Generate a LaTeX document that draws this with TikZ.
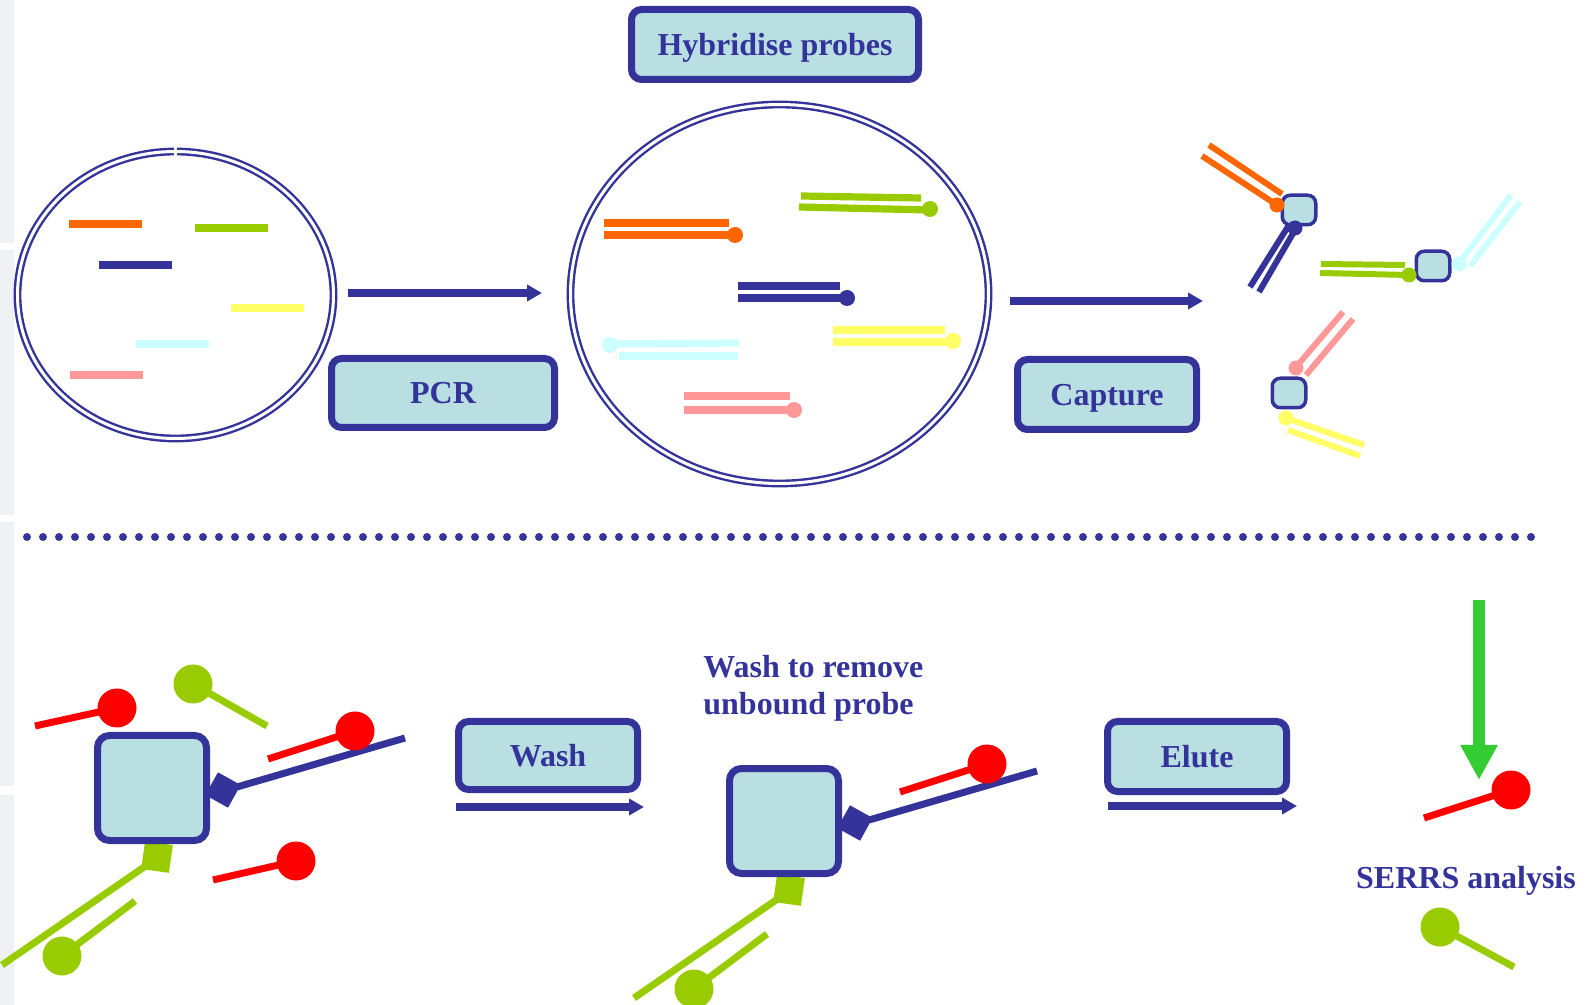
\documentclass[tikz,border=0pt]{standalone}
\usepackage{fontspec}
\setmainfont{Liberation Serif}
\usetikzlibrary{arrows.meta,shapes.geometric,positioning}

\definecolor{navy}{HTML}{333399}
\definecolor{boxfill}{HTML}{B9DFE3}
\definecolor{dnaorange}{HTML}{FF6600}
\definecolor{dnagreen}{HTML}{99CC00}
\definecolor{dnayellow}{HTML}{FFFF66}
\definecolor{dnacyan}{HTML}{CCFFFF}
\definecolor{dnapink}{HTML}{FF9999}
\definecolor{dyered}{HTML}{FF0000}
\definecolor{arrowgreen}{HTML}{33CC33}
\definecolor{stripgrey}{HTML}{F0F1F4}

\newcommand{\stepfont}{\bfseries\fontsize{16}{18.5}\selectfont}
\newcommand{\ballR}{9.75pt}
% probe: kleur, bolletje, vrij uiteinde
\newcommand{\probe}[3]{%
  \draw[stick, #1] #3 -- #2;
  \fill[#1] #2 circle (\ballR);}
% gebonden bead met twee targets en gehybridiseerde probes
\newcommand{\boundbead}[2]{%
  \begin{scope}[shift={#2}]
    \draw[stick, navy] (85,-1) -- (253,-50);
    \node[anchorsq, fill=navy, rotate=-29] (#1-target) at (71,2) {};
    \draw[stick, dnagreen] (-5,77) -- (-150,177);
    \node[anchorsq, minimum size=14pt, fill=dnagreen, rotate=-8] (#1-tag) at (5,69) {};
    \node[bigbead] (#1) at (0,0) {};
    \probe{dyered}{(203,-57)}{(116,-29)}
    \probe{dnagreen}{(-90,168)}{(-17,113)}
  \end{scope}}

\begin{document}
\begin{tikzpicture}[
    x=0.5pt, y=-0.5pt,
    % Stijlen
    stepbox/.style={draw=navy, fill=boxfill, line width=3.5pt, rounded corners=5pt,
      text=navy, font=\stepfont, inner sep=0pt, text height=10.6pt, text depth=0pt},
    tube/.style={ellipse, draw=navy, double=white, line width=1.2pt,
      double distance=1.5pt, inner sep=0pt, outer sep=0pt},
    flow/.style={-{Triangle[length=7.5pt,width=8pt]}, line width=4pt, navy},
    bar/.style={line width=4pt},
    duplex/.style={line width=3.6pt},
    arm/.style={line width=3pt},
    stick/.style={line width=3.5pt},
    capbead/.style={draw=navy, fill=boxfill, line width=1.75pt, rounded corners=4pt,
      minimum width=16.75pt, minimum height=14.75pt, inner sep=0pt},
    bigbead/.style={draw=navy, fill=boxfill, line width=3.5pt, rounded corners=6pt,
      minimum width=54.5pt, minimum height=52.5pt, inner sep=0pt},
    anchorsq/.style={minimum size=13pt, inner sep=0pt, outer sep=0pt},
    note/.style={text=navy, font=\stepfont, inner sep=0pt}
  ]

  % --- Parameters ---
  \def\dotR{3.75pt}   % bolletje bij capture
  \def\tipR{4pt}      % bolletje in buis

  \useasboundingbox (0,0) rectangle (1592,1005);

  % --- Rand links ---
  \fill[stripgrey] (0,0) rectangle (14,243);
  \fill[stripgrey] (0,250) rectangle (14,515);
  \fill[stripgrey] (0,522) rectangle (14,786);
  \fill[stripgrey] (0,795) rectangle (14,1005);

  % --- 1. BUIZEN ---
  \node[tube, minimum width=158pt, minimum height=143.5pt] (tube1) at (175.5,295) {};
  \fill[white] ([xshift=-0.8pt,yshift=-3pt]tube1.north) rectangle ([xshift=0.8pt,yshift=3pt]tube1.north);
  \node[tube, minimum width=209pt, minimum height=189.5pt] (tube2) at (779.5,294) {};

  % Targets in buis 1
  \draw[bar, dnaorange] (69,224) -- (142,224);
  \draw[bar, dnagreen] (195,228) -- (268,228);
  \draw[bar, navy] (99,265) -- (172,265);
  \draw[bar, dnayellow] (231,308) -- (304,308);
  \draw[bar, dnacyan] (136,344) -- (209,344);
  \draw[bar, dnapink] (70,375) -- (143,375);

  % Duplexen in buis 2
  \draw[duplex, dnaorange] (604,223) -- (729,223);
  \draw[duplex, dnaorange] (604,235) -- (735,235);
  \fill[dnaorange] (735,235) circle (\tipR);
  \draw[duplex, dnagreen] (801,196) -- (921,198);
  \draw[duplex, dnagreen] (799,207) -- (930,210);
  \fill[dnagreen] (930,209) circle (\tipR);
  \draw[duplex, navy] (738,286) -- (840,286);
  \draw[duplex, navy] (738,298) -- (847,298);
  \fill[navy] (847,298) circle (\tipR);
  \draw[duplex, dnayellow] (833,330) -- (945,330);
  \draw[duplex, dnayellow] (833,342) -- (953,342);
  \fill[dnayellow] (953,341) circle (\tipR);
  \draw[duplex, dnacyan] (610,344) -- (739,343);
  \draw[duplex, dnacyan] (619,356) -- (738,356);
  \fill[dnacyan] (610,345) circle (\tipR);
  \draw[duplex, dnapink] (684,396) -- (790,396);
  \draw[duplex, dnapink] (684,410) -- (794,410);
  \fill[dnapink] (794,410) circle (\tipR);

  % --- 2. STAPPEN ---
  \node[stepbox, minimum width=143.5pt, minimum height=35pt] (hybridise) at (775,44.5) {Hybridise probes};
  \node[stepbox, minimum width=111.5pt, minimum height=34.5pt] (pcr) at (443,393) {PCR};
  \node[stepbox, minimum width=89.5pt, minimum height=35pt] (capture) at (1107,394.5) {Capture};
  \node[stepbox, minimum width=89.5pt, minimum height=34pt] (wash) at (548,755.5) {Wash};
  \node[stepbox, minimum width=89.5pt, minimum height=35pt] (elute) at (1197,756.5) {Elute};

  \draw[flow] ([shift={(10pt,31pt)}]pcr.north west) -- ([shift={(-8pt,31pt)}]pcr.north east);
  \draw[flow] ([shift={(-2pt,27.5pt)}]capture.north west) -- ([shift={(1.5pt,27.5pt)}]capture.north east);
  \draw[flow] ([shift={(0.5pt,-7pt)}]wash.south west) -- ([shift={(1.5pt,-7pt)}]wash.south east);
  \draw[flow] ([shift={(2pt,-5.5pt)}]elute.south west) -- ([shift={(3.5pt,-5.5pt)}]elute.south east);

  % --- 3. CAPTURE BEADS ---
  \begin{scope}[shift={(1299,210)}]
    \draw[arm, dnaorange] (-90,-65) -- (-17,-16);
    \draw[arm, dnaorange] (-97,-54) -- (-22,-5);
    \draw[arm, navy] (-10,15) -- (-49,77);
    \draw[arm, navy] (-4,20) -- (-40,82);
    \node[capbead] (beadA) at (0,0) {};
    \fill[dnaorange] (-22,-5) circle (\dotR);
    \fill[navy] (-4,18) circle (\dotR);
  \end{scope}
  \begin{scope}[shift={(1433,266)}]
    \draw[arm, dnagreen] (-112,-2) -- (-28,-1);
    \draw[arm, dnagreen] (-113,7) -- (-24,9);
    \draw[arm, dnacyan] (26,-3) -- (78,-71);
    \draw[arm, dnacyan] (37,0) -- (87,-64);
    \node[capbead] (beadB) at (0,0) {};
    \fill[dnagreen] (-24,9) circle (\dotR);
    \fill[dnacyan] (26,-2) circle (\dotR);
  \end{scope}
  \begin{scope}[shift={(1289,393)}]
    \draw[arm, dnapink] (7,-26) -- (54,-81);
    \draw[arm, dnapink] (17,-18) -- (64,-74);
    \draw[arm, dnayellow] (-3,25) -- (75,52);
    \draw[arm, dnayellow] (-1,37) -- (71,63);
    \node[capbead] (beadC) at (0,0) {};
    \fill[dnapink] (7,-25) circle (\dotR);
    \fill[dnayellow] (-3,25) circle (\dotR);
  \end{scope}

  % --- 4. SCHEIDING ---
  \foreach \i in {0,...,94}
    \fill[navy] ({27+16*\i},537) circle (2pt);

  % --- 5. WASSEN EN ELUEREN ---
  \boundbead{bead1}{(152,788)}
  \probe{dyered}{(117,708)}{(35,726)}
  \probe{dnagreen}{(193,684)}{(267,726)}
  \probe{dyered}{(296,861)}{(213,880)}

  \node[note, align=left, anchor=base west] (washnote) at (703,715) {Wash to remove\\unbound probe};
  \boundbead{bead2}{(784,821)}

  % SERRS
  \coordinate (eluateTop) at (1479,600);
  \coordinate (eluateTip) at (1479,780);
  \draw[-{Triangle[length=17.5pt,width=17.5pt]}, line width=6pt, arrowgreen] (eluateTop) -- (eluateTip);
  \probe{dyered}{(1511,790)}{(1424,818)}
  \node[note, anchor=base] (serrs) at (1466,888) {SERRS analysis};
  \probe{dnagreen}{(1440,927)}{(1514,967)}

\end{tikzpicture}
\end{document}
